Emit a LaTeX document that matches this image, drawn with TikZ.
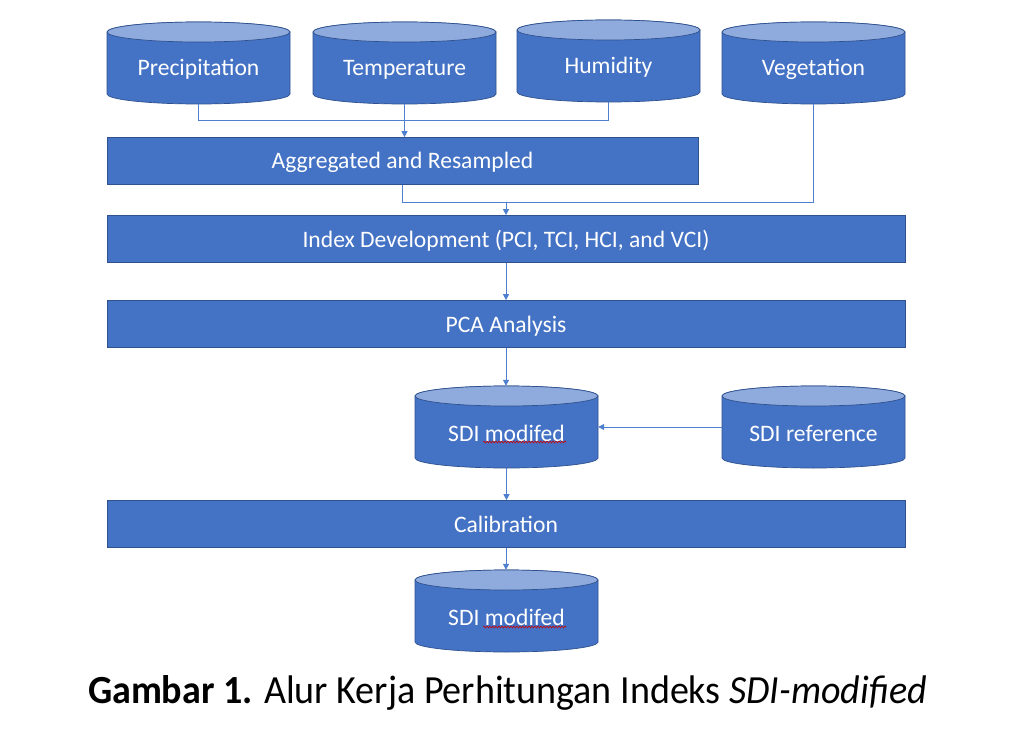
\documentclass[tikz,border=0pt]{standalone}
\usepackage{fontspec}
\setmainfont{Carlito}
\usetikzlibrary{arrows.meta,decorations.pathmorphing,calc}
\definecolor{cylbody}{HTML}{4472C4}
\definecolor{cyltop}{HTML}{8FAADC}
\definecolor{cylborder}{HTML}{2F528F}
\definecolor{connc}{HTML}{4F7FCF}
\tikzset{
  boxnode/.style={rectangle,fill=cylbody,draw=cylborder,line width=0.7pt,text=white,font=\fontsize{23.6}{28}\selectfont,inner sep=0pt},
  boxlabel/.style={text=white,font=\fontsize{23.6}{28}\selectfont,inner sep=0pt},
  cylnode/.style={rectangle,inner sep=0pt},
  cyltext/.style={text=white,font=\fontsize{23.6}{28}\selectfont,inner sep=0pt},
  conn/.style={draw=connc,line width=1pt},
  arr/.style={conn,-{Triangle[length=6pt,width=6pt]}},
  spell/.style={draw=red!80!black,line width=0.6pt,decorate,decoration={snake,amplitude=0.9pt,segment length=3pt}}
}
% name, x-left, y-top, y-bottom (pixels from top), text
\newcommand\dbcyl[5]{%
  \path[fill=cylbody,draw=cylborder,line width=0.7pt] (#2,-#3-10) -- (#2,-#4+10)
    arc[start angle=180,end angle=360,x radius=91.5,y radius=10] -- (#2+183,-#3-10)
    arc[start angle=0,end angle=180,x radius=91.5,y radius=10] -- cycle;
  \path[fill=cyltop,draw=cylborder,line width=0.7pt] (#2+91.5,-#3-10) ellipse[x radius=91.5,y radius=10];
  \node[cylnode,minimum width=183pt,minimum height={#4pt-#3pt}] (#1) at (#2+91.5,-#3/2-#4/2) {};
  \node[cyltext] (#1-t) at ($(#1.center)+(0,-6.5)$) {#5};
}
\begin{document}
\begin{tikzpicture}[x=1pt,y=1pt]
\useasboundingbox[fill=white] (0,0) rectangle (1033,-741);

% top sources
\dbcyl{prec}{107}{22}{104}{Precipitation}
\dbcyl{temp}{313}{22}{104}{Temperature}
\dbcyl{hum}{517}{20}{102}{Humidity}
\dbcyl{veg}{722}{22}{104}{Vegetation}

% process boxes
\node[boxnode,minimum width=591pt,minimum height=47pt] (agg) at (402.5,-161) {};
\node[boxnode,minimum width=798pt,minimum height=47pt] (idx) at (506,-239) {};
\node[boxnode,minimum width=798pt,minimum height=47pt] (pca) at (506,-324) {};
\node[boxnode,minimum width=798pt,minimum height=47pt] (cal) at (506,-524) {};
\node[boxlabel] (agg-t) at ($(agg.center)+(0,-1.5)$) {Aggregated and Resampled};
\node[boxlabel] (idx-t) at ($(idx.center)+(0,-2)$) {Index Development (PCI, TCI, HCI, and VCI)};
\node[boxlabel] (pca-t) at ($(pca.center)+(0,-2)$) {PCA Analysis};
\node[boxlabel] (cal-t) at ($(cal.center)+(0,0)$) {Calibration};

% SDI cylinders
\dbcyl{sdim}{415}{386}{468}{SDI modifed}
\dbcyl{sdiref}{722}{386}{468}{SDI reference}
\dbcyl{sdimb}{415}{570}{652}{SDI modifed}

% spelling squiggles
\draw[spell] (483,-442) -- (566,-442);
\draw[spell] (483,-627) -- (566,-627);

% connectors
\coordinate (j1) at (404.5,-121);
\coordinate (j2) at (506,-202);
\draw[conn] (prec.south) |- (j1);
\draw[conn] (hum.south) |- (j1);
\draw[arr] (temp.south) -- (temp.south |- agg.north);
\draw[conn] (agg.south) |- (j2);
\draw[conn] (veg.south) |- (j2);
\draw[arr] (j2) -- (idx.north);
\draw[arr] (idx.south) -- (pca.north);
\draw[arr] (pca.south) -- (pca.south |- sdim.north);
\draw[arr] (sdiref.west) -- (sdim.east);
\draw[arr] (sdim.south) -- (sdim.south |- cal.north);
\draw[arr] (cal.south) -- (cal.south |- sdimb.north);

% caption
\node[anchor=base,inner sep=0pt] (cap) at (507.5,-703)
  {\resizebox{839pt}{28pt}{\fontsize{40}{48}\selectfont\textbf{Gambar 1.} Alur Kerja Perhitungan Indeks \textit{SDI-modified}}};
\end{tikzpicture}
\end{document}
